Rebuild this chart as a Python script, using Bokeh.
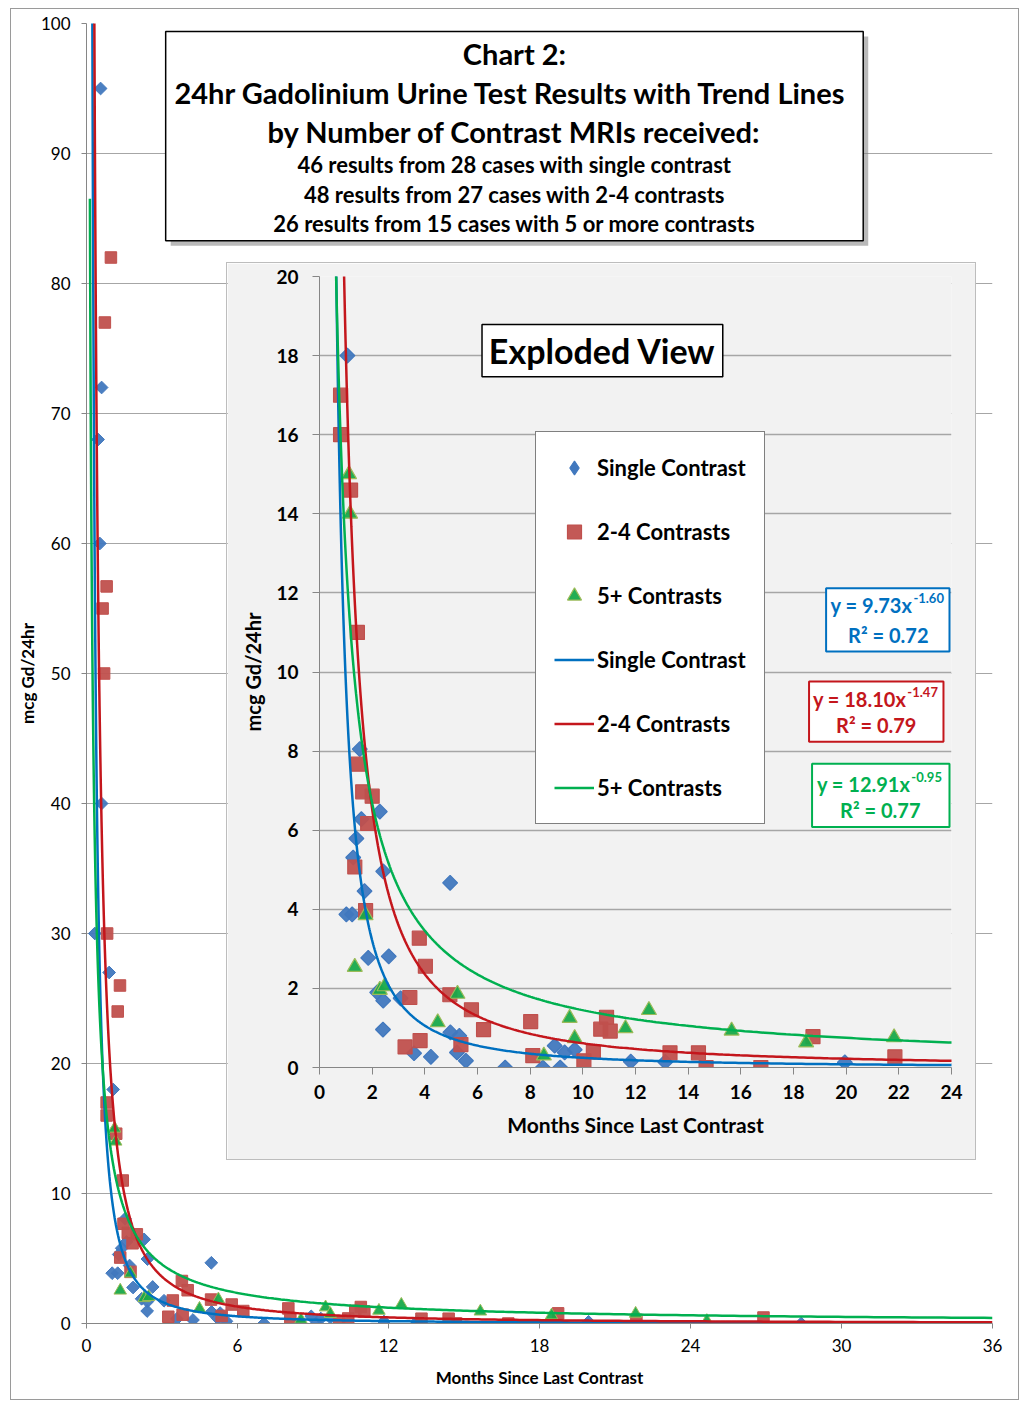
import numpy as np
from bokeh.plotting import figure
from bokeh.models import (BoxAnnotation, Label, Legend, LegendItem, FixedTicker, Range1d,
                          ColumnDataSource, CDSView, IndexFilter)
from bokeh.layouts import column
from bokeh.embed import file_html
from bokeh.resources import INLINE

FONT = "Lato"

# ---------------- data ----------------
months_single = [0.56, 0.60, 0.46, 0.53, 0.60, 0.33, 0.90, 1.06, 1.53, 2.29, 1.59, 1.40,
                 1.28, 2.42, 4.96, 1.71, 1.02, 1.24, 1.85, 2.63, 2.19, 2.42, 3.08, 2.41,
                 4.97, 5.31, 3.59, 4.23, 5.22, 5.56, 7.05, 8.48, 8.93, 9.14, 9.31, 9.69,
                 11.82, 13.13, 19.95, 28.4]
gd_single = [95, 72, 68, 60, 40, 30, 27, 18, 8.05, 6.47, 6.28, 5.79,
             5.31, 4.96, 4.67, 4.46, 3.87, 3.87, 2.77, 2.81, 1.90, 1.69, 1.75, 0.96,
             0.89, 0.80, 0.36, 0.27, 0.38, 0.17, 0.0, 0.0, 0.55, 0.0, 0.38, 0.45,
             0.15, 0.14, 0.13, 0.0]

months_multi = [0.97, 0.73, 0.80, 0.64, 0.70, 0.82, 1.33, 1.24, 0.80, 0.80, 1.18, 1.44,
                1.47, 1.64, 2.00, 1.83, 1.34, 1.75, 3.79, 4.02, 3.43, 4.95, 5.77, 6.23,
                3.82, 3.25, 5.37, 8.02, 8.10, 10.04, 10.40, 10.90, 10.68, 11.04, 13.31,
                14.39, 14.68, 16.76, 18.74, 21.85, 26.9]
gd_multi = [82, 77, 56.7, 55, 50, 30, 26, 24, 17, 16, 14.6, 11,
            7.67, 6.97, 6.86, 6.17, 5.07, 3.97, 3.27, 2.56, 1.77, 1.84, 1.46, 0.96,
            0.68, 0.52, 0.58, 1.16, 0.30, 0.17, 0.39, 1.27, 0.97, 0.92, 0.37,
            0.37, 0.0, 0.0, 0.78, 0.27, 0.46]

months_five = [1.12, 1.16, 1.75, 1.34, 2.29, 2.47, 5.24, 4.49, 8.52, 9.50, 9.69, 11.62,
               12.51, 15.65, 18.48, 21.82, 24.65]
gd_five = [15.0, 14.0, 3.85, 2.54, 1.96, 2.05, 1.86, 1.14, 0.30, 1.25, 0.74, 0.99,
           1.45, 0.93, 0.63, 0.76, 0.20]

series_names = ["Single Contrast", "2-4 Contrasts", "5+ Contrasts"]
trend_coef = [9.73, 18.10, 12.91]
trend_exp = [-1.60, -1.47, -0.95]
trend_r2 = [0.72, 0.79, 0.77]
trend_xmin = [0.20, 0.25, 0.135]
trend_xmax = [28.4, 36.0, 36.0]

main_x_ticks = [0, 6, 12, 18, 24, 30, 36]
main_y_ticks = list(range(0, 101, 10))
inset_x_ticks = list(range(0, 25, 2))
inset_y_ticks = list(range(0, 21, 2))

title_big = ["Chart 2:", "24hr Gadolinium  Urine Test Results with Trend Lines",
             "by Number of Contrast MRIs received:"]
title_small = ["46 results from 28 cases with single contrast",
               "48 results from 27 cases with 2-4 contrasts",
               "26 results from 15 cases with 5 or more contrasts"]

# ---------------- styling / layout ----------------
MARK_FILL = ["#4178be", "#c0504d", "#18a94a"]
MARK_LINE = ["#4178be", "#c0504d", "#9bbb59"]
LINE_COL = ["#0070c0", "#c4161c", "#00b050"]
AXIS_COL = "#868686"
GRID_COL = "#a6a6a6"

OX, OY = 10, 8           # page position of the chart area
MW, MH = 1009, 1392
M_L, M_R, M_T, M_B = 86, 990, 23, 1321       # main plot area (page px)
I_X0, I_Y0, IW, IH = 226, 262, 750, 898      # inset box (page px)
I_L, I_R, I_T, I_B = 319, 949, 276, 1065     # inset plot area (page px)
BW = 1  # css border width


def mx(px):
    return (px - M_L) / (M_R - M_L) * 36.0


def my(py):
    return (M_B - py) / (M_B - M_T) * 100.0


def ix(px):
    return (px - I_L) / (I_R - I_L) * 24.0


def iy(py):
    return (I_B - py) / (I_B - I_T) * 20.0


xs_data = [months_single, months_multi, months_five]
ys_data = [gd_single, gd_multi, gd_five]
markers = ["square", "square", "triangle"]
angles = [np.pi / 4, 0.0, 0.0]


def trend(i):
    x = np.geomspace(trend_xmin[i], trend_xmax[i], 600)
    return x, trend_coef[i] * x ** trend_exp[i]


def style_axes(fig, tick_font, tick_style, label_font, tick_out, lab_stand_x, lab_stand_y,
               title_stand_x, title_stand_y):
    for ax in (fig.xaxis[0], fig.yaxis[0]):
        ax.axis_line_color = AXIS_COL
        ax.major_tick_line_color = AXIS_COL
        ax.major_tick_in = 0
        ax.major_tick_out = tick_out
        ax.minor_tick_line_color = None
        ax.major_label_text_font = FONT
        ax.major_label_text_font_size = tick_font
        ax.major_label_text_font_style = tick_style
        ax.major_label_text_color = "black"
        ax.axis_label_text_font = FONT
        ax.axis_label_text_font_size = label_font
        ax.axis_label_text_font_style = "bold"
        ax.axis_label_text_color = "black"
    fig.xaxis[0].major_label_standoff = lab_stand_x
    fig.yaxis[0].major_label_standoff = lab_stand_y
    fig.xaxis[0].axis_label_standoff = title_stand_x
    fig.yaxis[0].axis_label_standoff = title_stand_y


# ---------------- main chart ----------------
p = figure(width=MW, height=MH, x_range=Range1d(0, 36), y_range=Range1d(0, 100),
           output_backend="svg", toolbar_location=None,
           min_border_left=M_L - OX - BW, min_border_right=OX + MW - M_R - BW,
           min_border_top=M_T - OY - BW, min_border_bottom=OY + MH - M_B - BW,
           background_fill_color="white", border_fill_color="white",
           outline_line_color=None)
p.frame_align = False
p.styles = {"border": "1px solid #9a9a9a"}
p.margin = (OY, 0, 0, OX)
p.xaxis.ticker = FixedTicker(ticks=main_x_ticks)
p.yaxis.ticker = FixedTicker(ticks=main_y_ticks)
p.xaxis.axis_label = "Months Since Last Contrast"
p.yaxis.axis_label = "mcg Gd/24hr"
style_axes(p, "17px", "normal", "17px", 5, 10, 11, 12, 0)
p.xgrid.visible = False
p.ygrid.grid_line_color = GRID_COL
p.ygrid.grid_line_width = 1

main_sizes = [9, 11.5, 12.5]
for i in range(3):
    p.scatter(xs_data[i], ys_data[i], marker=markers[i], angle=angles[i], size=main_sizes[i],
              fill_color=MARK_FILL[i], line_color=MARK_LINE[i], line_width=1, fill_alpha=0.95)
for i in range(3):
    tx, ty = trend(i)
    p.line(tx, ty, line_color=LINE_COL[i], line_width=2.5)

# title box with shadow
p.add_layout(BoxAnnotation(left=mx(170), right=mx(866), top=my(36), bottom=my(245),
                           fill_color="#7f7f7f", fill_alpha=0.55, line_alpha=0))
p.add_layout(BoxAnnotation(left=mx(165), right=mx(861), top=my(31), bottom=my(240),
                           fill_color="white", fill_alpha=1.0, line_color="black",
                           line_width=1.5, line_dash="solid", line_alpha=1.0))
for txt, ypx in zip(title_big, [53, 92, 131]):
    p.add_layout(Label(x=mx(513), y=my(ypx), text=txt, text_align="center",
                       text_baseline="middle", text_font=FONT, text_font_style="bold",
                       text_font_size="29px", text_color="black"))
for txt, ypx in zip(title_small, [164, 194, 223]):
    p.add_layout(Label(x=mx(513), y=my(ypx), text=txt, text_align="center",
                       text_baseline="middle", text_font=FONT, text_font_style="bold",
                       text_font_size="22px", text_color="black"))

# ---------------- inset (exploded view) ----------------
q = figure(width=IW, height=IH, x_range=Range1d(0, 24), y_range=Range1d(0, 20),
           output_backend="svg", toolbar_location=None,
           min_border_left=I_L - I_X0 - BW, min_border_right=I_X0 + IW - I_R - BW,
           min_border_top=I_T - I_Y0 - BW, min_border_bottom=I_Y0 + IH - I_B - BW,
           background_fill_color="#f2f2f2", border_fill_color="#f2f2f2",
           outline_line_color=None)
q.frame_align = False
q.styles = {"border": "1px solid #bdbdbd"}
q.xaxis.ticker = FixedTicker(ticks=inset_x_ticks)
q.yaxis.ticker = FixedTicker(ticks=inset_y_ticks)
q.xaxis.axis_label = "Months Since Last Contrast"
q.yaxis.axis_label = "mcg Gd/24hr"
style_axes(q, "19px", "bold", "21px", 7, 10, 14, 10, 8)
q.yaxis[0].axis_label_text_font_size = "20px"
q.xgrid.visible = False
q.ygrid.grid_line_color = GRID_COL
q.ygrid.grid_line_width = 1.5

inset_sizes = [10.5, 14, 15]
scat_r, line_r = [], []
for i in range(3):
    src = ColumnDataSource(data=dict(x=xs_data[i], y=ys_data[i]))
    r = q.scatter("x", "y", source=src, marker=markers[i], angle=angles[i],
                  size=inset_sizes[i], fill_color=MARK_FILL[i], line_color=MARK_LINE[i],
                  line_width=1.2, fill_alpha=0.95)
    scat_r.append(r)
    if i == 0:
        # legend glyph for the diamonds: the highest result (above the 20 limit, so off-view)
        top = int(np.argmax(ys_data[i]))
        diamond_r = q.scatter("x", "y", source=src, view=CDSView(filter=IndexFilter(indices=[top])),
                              marker="diamond", size=inset_sizes[i],
                              fill_color=MARK_FILL[i], line_color=MARK_LINE[i], line_width=1.2)
for i in range(3):
    tx, ty = trend(i)
    r = q.line(tx, ty, line_color=LINE_COL[i], line_width=2.5)
    line_r.append(r)

leg_r = [diamond_r, scat_r[1], scat_r[2]]
items = [LegendItem(label=series_names[i], renderers=[leg_r[i]]) for i in range(3)] + \
        [LegendItem(label=series_names[i], renderers=[line_r[i]]) for i in range(3)]
legend = Legend(items=items, location=(535 - I_L, I_B - 822), padding=18, spacing=29,
                glyph_height=35, glyph_width=40, label_height=35, label_standoff=3, margin=0,
                label_text_font=FONT, label_text_font_style="bold", label_text_font_size="22px",
                label_text_color="black", border_line_color="black", border_line_width=1.5,
                background_fill_color="white", background_fill_alpha=1.0)
q.add_layout(legend)

# exploded view box
q.add_layout(BoxAnnotation(left=ix(481), right=ix(721), top=iy(324), bottom=iy(376),
                           fill_color="white", fill_alpha=1.0, line_color="black",
                           line_width=1.5, line_dash="solid", line_alpha=1.0))
q.add_layout(Label(x=ix(601), y=iy(350), text="Exploded View", text_align="center",
                   text_baseline="middle", text_font=FONT, text_font_style="bold",
                   text_font_size="34px", text_color="black"))

# equation boxes
eq_boxes = [(824, 947, 587, 650), (807, 941, 680, 740), (810, 947, 762, 825)]
eq_base_pos = [(910, 604), (904, 697), (908, 782)]
eq_r2_pos = [(886, 634), (874, 723), (878, 808)]
for i in range(3):
    l, r_, t, b = eq_boxes[i]
    q.add_layout(BoxAnnotation(left=ix(l), right=ix(r_), top=iy(t), bottom=iy(b),
                               fill_color="white", fill_alpha=1.0, line_color=LINE_COL[i],
                               line_width=2, line_dash="solid", line_alpha=1.0))
    bx, by = eq_base_pos[i]
    q.add_layout(Label(x=ix(bx), y=iy(by), text="y = %.2fx" % trend_coef[i], text_align="right",
                       text_baseline="middle", text_font=FONT, text_font_style="bold",
                       text_font_size="20px", text_color=LINE_COL[i]))
    q.add_layout(Label(x=ix(bx + 1), y=iy(by - 7), text="%.2f" % trend_exp[i], text_align="left",
                       text_baseline="middle", text_font=FONT, text_font_style="bold",
                       text_font_size="13px", text_color=LINE_COL[i]))
    rx, ry = eq_r2_pos[i]
    q.add_layout(Label(x=ix(rx), y=iy(ry), text="R\u00b2 = %.2f" % trend_r2[i], text_align="center",
                       text_baseline="middle", text_font=FONT, text_font_style="bold",
                       text_font_size="20px", text_color=LINE_COL[i]))

q.margin = (I_Y0 - (OY + MH), 0, (OY + MH) - (I_Y0 + IH), I_X0)

layout = column(p, q)
open("out.html", "w").write(file_html(layout, INLINE))
